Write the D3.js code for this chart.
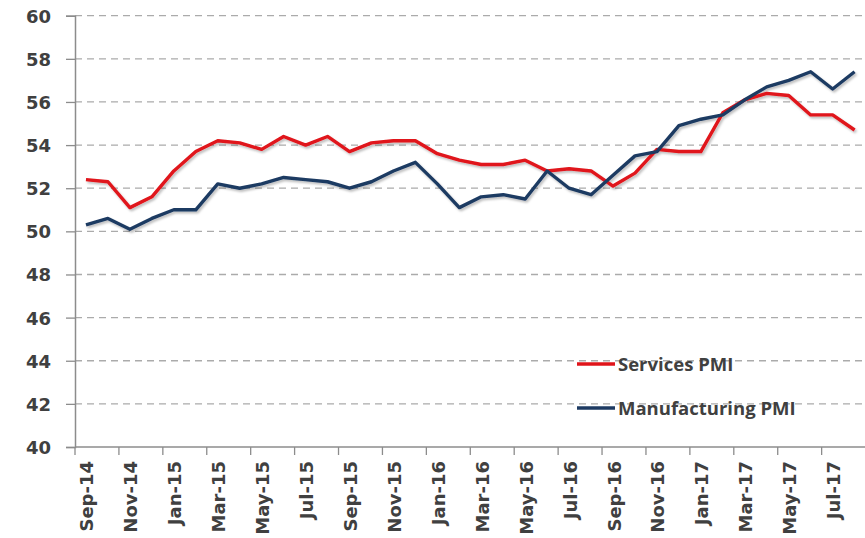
<!DOCTYPE html>
<html>
<head>
<meta charset="utf-8">
<script src="https://cdn.jsdelivr.net/npm/d3@7"></script>
<style>
  html, body { margin: 0; padding: 0; background: #ffffff; }
  svg { display: block; }
  .lbl { font-family: "DejaVu Sans", sans-serif; font-weight: bold; fill: #404040; }
  .leg { font-family: "Open Sans", sans-serif; font-weight: bold; fill: #404040; }
</style>
</head>
<body>
<svg id="chart" width="865" height="538"></svg>
<script>
// Monthly PMI readings, Sep 2014 – Aug 2017
const months = ["Sep-14","Oct-14","Nov-14","Dec-14","Jan-15","Feb-15","Mar-15","Apr-15","May-15","Jun-15","Jul-15","Aug-15",
                "Sep-15","Oct-15","Nov-15","Dec-15","Jan-16","Feb-16","Mar-16","Apr-16","May-16","Jun-16","Jul-16","Aug-16",
                "Sep-16","Oct-16","Nov-16","Dec-16","Jan-17","Feb-17","Mar-17","Apr-17","May-17","Jun-17","Jul-17","Aug-17"];

const servicesPMI = [52.4,52.3,51.1,51.6,52.8,53.7,54.2,54.1,53.8,54.4,54.0,54.4,
                     53.7,54.1,54.2,54.2,53.6,53.3,53.1,53.1,53.3,52.8,52.9,52.8,
                     52.1,52.7,53.8,53.7,53.7,55.5,56.1,56.4,56.3,55.4,55.4,54.7];

const manufacturingPMI = [50.3,50.6,50.1,50.6,51.0,51.0,52.2,52.0,52.2,52.5,52.4,52.3,
                          52.0,52.3,52.8,53.2,52.2,51.1,51.6,51.7,51.5,52.8,52.0,51.7,
                          52.6,53.5,53.7,54.9,55.2,55.4,56.1,56.7,57.0,57.4,56.6,57.4];

const yTicks = [40,42,44,46,48,50,52,54,56,58,60];
const xTickLabels = months.filter((m, i) => i % 2 === 0);

const seriesList = [
  { name: "Services PMI", values: servicesPMI, color: "#e0141a" },
  { name: "Manufacturing PMI", values: manufacturingPMI, color: "#1d3a62" }
];

const svg = d3.select("#chart");
const plotLeft = 75, plotTop = 15.7, plotBottom = 447;
const step = 21.96;

const x = d3.scaleBand().domain(months).range([plotLeft, plotLeft + months.length * step]).padding(0);
const y = d3.scaleLinear().domain([40, 60]).range([plotBottom, plotTop]);

// soft drop shadow under the series lines
const defs = svg.append("defs");
const f = defs.append("filter").attr("id", "shadow").attr("x", "-5%").attr("y", "-20%").attr("width", "110%").attr("height", "140%");
f.append("feDropShadow").attr("dx", 1.5).attr("dy", 2).attr("stdDeviation", 1.2)
  .attr("flood-color", "#000").attr("flood-opacity", 0.25);

// dashed horizontal gridlines
svg.append("g").selectAll("line").data(yTicks.filter(t => t > 40)).join("line")
  .attr("x1", plotLeft).attr("x2", 865)
  .attr("y1", d => y(d)).attr("y2", d => y(d))
  .attr("stroke", "#ababab").attr("stroke-width", 1.3)
  .attr("stroke-dasharray", "7,5");

// y axis
const yAxis = svg.append("g").attr("transform", `translate(${plotLeft},0)`)
  .call(d3.axisLeft(y).tickValues(yTicks).tickSize(9).tickPadding(15).tickFormat(d3.format("d")));
yAxis.select(".domain").attr("stroke", "#8c8c8c").attr("stroke-width", 1.5);
yAxis.selectAll(".tick line").attr("stroke", "#8c8c8c").attr("stroke-width", 1.3);
yAxis.selectAll(".tick text").attr("class", "lbl").style("font-size", "18px").attr("dy", "0.36em");

// x axis line and ticks at every second category boundary
svg.append("line").attr("x1", plotLeft).attr("x2", 865).attr("y1", plotBottom).attr("y2", plotBottom)
  .attr("stroke", "#8c8c8c").attr("stroke-width", 1.5);
svg.append("g").selectAll("line").data(xTickLabels).join("line")
  .attr("x1", d => x(d)).attr("x2", d => x(d))
  .attr("y1", plotBottom).attr("y2", plotBottom + 8)
  .attr("stroke", "#8c8c8c").attr("stroke-width", 1.3);

// rotated month labels
svg.append("g").selectAll("text").data(xTickLabels).join("text")
  .attr("class", "lbl")
  .style("font-size", "18px")
  .attr("text-anchor", "end")
  .attr("transform", d => `translate(${x(d) + x.bandwidth() / 2 + 1},${plotBottom + 14}) rotate(-90)`)
  .attr("dy", "0.36em")
  .text(d => d);

// series lines
const line = d3.line()
  .x((d, i) => x(months[i]) + x.bandwidth() / 2)
  .y(d => y(d));

svg.append("g").attr("filter", "url(#shadow)").selectAll("path").data(seriesList).join("path")
  .attr("d", d => line(d.values))
  .attr("fill", "none")
  .attr("stroke", d => d.color)
  .attr("stroke-width", 3.4)
  .attr("stroke-linejoin", "round");

// legend
const legend = svg.append("g").selectAll("g").data(seriesList).join("g")
  .attr("transform", (d, i) => `translate(577,${364 + i * 44})`);
legend.append("line").attr("x1", 0).attr("x2", 38).attr("y1", 0).attr("y2", 0)
  .attr("stroke", d => d.color).attr("stroke-width", 3.4);
legend.append("text").attr("class", "leg").style("font-size", "18.5px")
  .attr("x", 41).attr("dy", "0.36em").text(d => d.name);
</script>
</body>
</html>
